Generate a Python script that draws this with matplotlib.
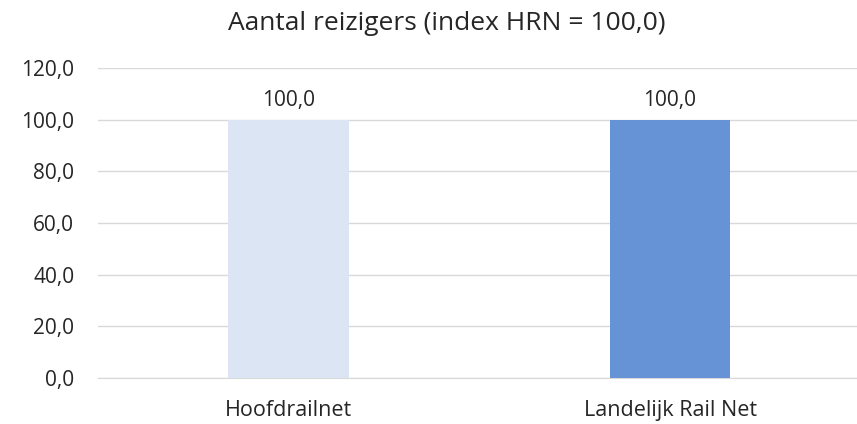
import matplotlib; matplotlib.use("Agg")
import matplotlib.pyplot as plt
from matplotlib.ticker import FuncFormatter

categorieen = ["Hoofdrailnet", "Landelijk Rail Net"]
waarden     = [100.0, 100.0]
kleuren     = ["#DCE5F4", "#6693D6"]
titel       = "Aantal reizigers (index HRN = 100,0)"

plt.rcParams["font.family"] = ["Open Sans", "DejaVu Sans"]
TXT = "#262626"

fig = plt.figure(figsize=(8.57, 4.24), dpi=100)
ax = fig.add_axes([0.1141, 0.1085, 0.8903, 0.7311])

x = range(len(categorieen))
ax.bar(x, waarden, width=0.315, color=kleuren, zorder=3)
for xi, v in zip(x, waarden):
    ax.text(xi, v + 3.5, f"{v:.1f}".replace(".", ","), ha="center", va="bottom",
            fontsize=15, color=TXT)

ax.set_xlim(-0.5, 1.5)
ax.set_ylim(0, 120)
ax.set_yticks(range(0, 121, 20))
ax.yaxis.set_major_formatter(FuncFormatter(lambda v, p: f"{v:.1f}".replace(".", ",")))
ax.set_xticks(list(x))
ax.set_xticklabels(categorieen)
ax.tick_params(length=0, labelsize=15, colors=TXT)
ax.tick_params(axis="x", labelsize=15.5, pad=16)
ax.tick_params(axis="y", pad=17)
ax.grid(axis="y", color="#D9D9D9", lw=1, zorder=0)
for s in ["top", "right", "left"]:
    ax.spines[s].set_visible(False)
ax.spines["bottom"].set_color("#D9D9D9")

fig.text(0.521, 0.945, titel, ha="center", va="center", fontsize=19, color=TXT)

fig.savefig("out.png", dpi=100)
